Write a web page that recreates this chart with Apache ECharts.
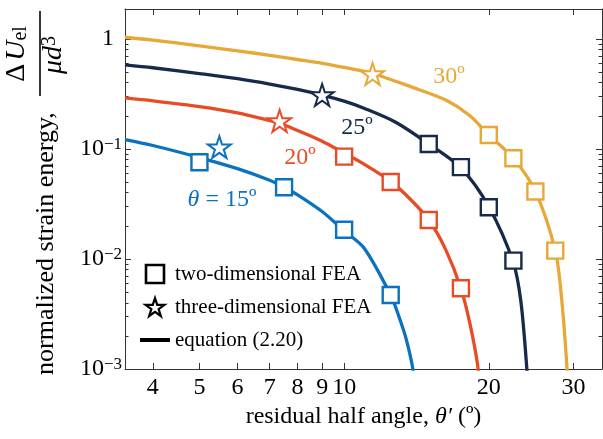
<!DOCTYPE html>
<html>
<head>
<meta charset="utf-8">
<script src="https://cdn.jsdelivr.net/npm/echarts@6/dist/echarts.min.js"></script>
<style>
html, body { margin: 0; padding: 0; background: #fff; }
#main { width: 603px; height: 439px; }
</style>
</head>
<body>
<div id="main"></div>
<script>
// tick values
var xTicks = [4, 5, 6, 7, 8, 9, 10, 20, 30];
var yTicks = [0.001, 0.01, 0.1, 1];
var yMinorTicks = [0.002, 0.003, 0.004, 0.005, 0.006, 0.007, 0.008, 0.009,
    0.02, 0.03, 0.04, 0.05, 0.06, 0.07, 0.08, 0.09,
    0.2, 0.3, 0.4, 0.5, 0.6, 0.7, 0.8, 0.9];

// equation (2.20)
var curve15 = [[3.5, 0.1217], [4, 0.1075], [5, 0.0835], [6, 0.0662], [7, 0.0519], [7.5, 0.0449],
    [8, 0.0383], [9, 0.027], [10, 0.018], [11, 0.0126], [12.5, 0.0047], [13, 0.003],
    [13.45, 0.0019], [13.9, 0.001], [14.4, 0.0003], [14.8, 0.00004]];
var curve20 = [[3.5, 0.291], [4, 0.274], [5, 0.243], [6, 0.213], [7, 0.181], [7.34, 0.172],
    [8, 0.147], [9, 0.1175], [10, 0.0916], [11, 0.0728], [12.5, 0.0507], [13.75, 0.0347],
    [15, 0.0226], [16.25, 0.0123], [17.5, 0.0054], [18.3, 0.0025], [19, 0.001],
    [19.5, 0.00022], [19.9, 0.00001]];
var curve25 = [[3.5, 0.581], [4, 0.547], [5, 0.484], [6, 0.435], [7, 0.389], [8, 0.347],
    [9, 0.308], [10, 0.2716], [11, 0.2344], [12.8, 0.175], [15, 0.111], [17.5, 0.0672],
    [20, 0.0298], [22.5, 0.00925], [23.33, 0.00406], [24, 0.001], [24.5, 0.00025], [24.9, 0.00001]];
var curve30 = [[3.5, 1.035], [4, 0.975], [5, 0.865], [6, 0.78], [7, 0.71], [8, 0.65],
    [9, 0.6], [10, 0.55], [11.46, 0.485], [13.88, 0.363], [16.28, 0.278], [18.22, 0.202],
    [20, 0.134], [22.5, 0.0822], [25, 0.0411], [27.5, 0.0119], [28.36, 0.0043],
    [29.1, 0.001], [29.6, 0.00025], [29.95, 0.00001]];

// two-dimensional FEA
var fea2d15 = [[5, 0.0757], [7.5, 0.0449], [10, 0.01845], [12.5, 0.00471]];
var fea2d20 = [[10, 0.0851], [12.5, 0.0501], [15, 0.0226], [17.5, 0.00542]];
var fea2d25 = [[15, 0.111], [17.5, 0.0683], [20, 0.0295], [22.5, 0.00965]];
var fea2d30 = [[20, 0.134], [22.5, 0.0822], [25, 0.0411], [27.5, 0.0119]];

// three-dimensional FEA
var fea3d15 = [[5.5, 0.104]];
var fea3d20 = [[7.34, 0.18]];
var fea3d25 = [[9.0, 0.31]];
var fea3d30 = [[11.46, 0.481]];

var colors = ['#0b72bf', '#e84c27', '#172a4a', '#e8a837'];
var serif = 'Liberation Serif';
var squarePath = 'path://M0,0H10V10H0Z';
var starPath = 'path://M50,0L61.2,34.5L97.6,34.5L68.2,55.9L79.4,90.5L50,69.1L20.6,90.5L31.8,55.9L2.4,34.5L38.8,34.5Z';
var barPath = 'path://M0,0H30V4H0Z';

var myChart = echarts.init(document.getElementById('main'));

function curveSeries(data, c) {
    return {
        type: 'line', data: data, smooth: 0.3, symbol: 'none',
        lineStyle: { color: c, width: 3.3 }, z: 2, silent: true
    };
}
function squareSeries(data, c) {
    return {
        type: 'scatter', data: data, symbol: squarePath, symbolSize: 16, symbolKeepAspect: true,
        itemStyle: { color: '#fff', borderColor: c, borderWidth: 2.4, opacity: 1 }, z: 3, silent: true
    };
}
function starSeries(data, c) {
    return {
        type: 'scatter', data: data, symbol: starPath, symbolSize: 23, symbolKeepAspect: true,
        itemStyle: { color: '#fff', borderColor: c, borderWidth: 2, opacity: 1 }, z: 3, silent: true
    };
}

var axisColor = '#333';
function xAxisDef(pos) {
    return {
        type: 'log', logBase: 10, min: 3.5, max: 34.4, position: pos,
        axisLine: { show: true, lineStyle: { color: axisColor, width: 1 } },
        axisTick: { show: true, inside: true, length: 6, customValues: xTicks, lineStyle: { color: axisColor } },
        axisLabel: {
            show: pos === 'bottom', customValues: xTicks, margin: 7,
            fontSize: 24, fontFamily: serif, color: '#000'
        },
        splitLine: { show: false }, minorTick: { show: false }
    };
}
function yAxisDef(pos, minor) {
    return {
        type: 'log', logBase: 10, min: 0.001, max: 1.87, position: pos,
        axisLine: { show: !minor, lineStyle: { color: axisColor, width: 1 } },
        axisTick: {
            show: true, inside: true, length: minor ? 3.5 : 6,
            customValues: minor ? yMinorTicks : yTicks, lineStyle: { color: axisColor }
        },
        axisLabel: {
            show: pos === 'left' && !minor, customValues: yTicks, margin: 3,
            formatter: function (v) {
                var e = Math.round(Math.log10(v));
                return e === 0 ? '{one|1}' : '{b|10}{sup|\u2212' + (-e) + '}';
            },
            rich: {
                one: { fontSize: 24, fontFamily: serif, color: '#000', lineHeight: 26, padding: [0, 8, 0, 0] },
                b: { fontSize: 24, fontFamily: serif, color: '#000', lineHeight: 26 },
                sup: { fontSize: 17, fontFamily: serif, color: '#000', lineHeight: 13, verticalAlign: 'top' }
            }
        },
        splitLine: { show: false }, minorTick: { show: false }
    };
}

var xMain = xAxisDef('bottom');
xMain.name = '{t|residual half angle, }{i|\u03b8\u2032}{t| (\u00ba)}';
xMain.nameLocation = 'middle';
xMain.nameGap = 30;
xMain.nameTextStyle = {
    rich: {
        t: { fontSize: 24, fontFamily: serif, color: '#000' },
        i: { fontSize: 24, fontFamily: serif, fontStyle: 'italic', color: '#000' }
    }
};

var series = [
    curveSeries(curve15, colors[0]), curveSeries(curve20, colors[1]),
    curveSeries(curve25, colors[2]), curveSeries(curve30, colors[3]),
    squareSeries(fea2d15, colors[0]), squareSeries(fea2d20, colors[1]),
    squareSeries(fea2d25, colors[2]), squareSeries(fea2d30, colors[3]),
    starSeries(fea3d15, colors[0]), starSeries(fea3d20, colors[1]),
    starSeries(fea3d25, colors[2]), starSeries(fea3d30, colors[3]),
    // legend-only entries
    { name: 'two-dimensional FEA', type: 'scatter', data: [], symbol: squarePath,
      itemStyle: { color: '#fff', borderColor: '#000', borderWidth: 2.6, opacity: 1 } },
    { name: 'three-dimensional FEA', type: 'scatter', data: [], symbol: starPath,
      itemStyle: { color: '#fff', borderColor: '#000', borderWidth: 2.2, opacity: 1 } },
    { name: 'equation (2.20)', type: 'line', data: [], symbol: 'none',
      lineStyle: { color: '#000', width: 4 }, itemStyle: { color: '#000' } }
];

var label = function (txt, x, y, c) {
    return {
        type: 'text', x: x, y: y, z: 10,
        style: {
            text: txt, fill: c, align: 'center', verticalAlign: 'middle',
            font: '24px "Liberation Serif"',
            rich: {
                i: { fontSize: 24, fontFamily: serif, fontStyle: 'italic', fill: c },
                t: { fontSize: 24, fontFamily: serif, fill: c }
            }
        }
    };
};

var option = {
    animation: false,
    backgroundColor: '#fff',
    grid: { left: 125, right: 1, top: 9, bottom: 70, containLabel: false },
    xAxis: [xMain, xAxisDef('top')],
    yAxis: [yAxisDef('left', false), yAxisDef('left', true), yAxisDef('right', false), yAxisDef('right', true)],
    legend: {
        orient: 'vertical', left: 135, top: 258, itemWidth: 30, itemHeight: 18, itemGap: 11,
        itemTextGap: 8, selectedMode: false,
        textStyle: { fontSize: 21, fontFamily: serif, color: '#000', lineHeight: 22 },
        data: [
            { name: 'two-dimensional FEA', icon: squarePath, itemStyle: { borderWidth: 2.6, borderColor: '#000', color: '#fff', opacity: 1 } },
            { name: 'three-dimensional FEA', icon: starPath, itemStyle: { borderWidth: 2.2, borderColor: '#000', color: '#fff', opacity: 1 } },
            { name: 'equation (2.20)', icon: barPath, itemStyle: { color: '#000', borderWidth: 0, opacity: 1 } }
        ]
    },
    graphic: [
        label('30\u00ba', 449, 77, colors[3]),
        label('25\u00ba', 357, 128, colors[2]),
        label('20\u00ba', 300, 158, colors[1]),
        label('{i|\u03b8}{t| = 15\u00ba}', 222, 200, colors[0]),
        {
            type: 'group', x: 46, y: 375, rotation: Math.PI / 2,
            children: [
                { type: 'text', x: 0, y: 0,
                  style: { text: 'normalized strain energy,', font: '26px "Liberation Serif"', fill: '#000',
                           align: 'left', verticalAlign: 'middle' } },
                { type: 'text', x: 321, y: -29,
                  style: { text: '{r|\u0394}{i|U}{s|el}', align: 'center', verticalAlign: 'middle',
                           rich: {
                               r: { fontSize: 28, fontFamily: serif, fill: '#000', padding: [0, 3, 0, 0] },
                               i: { fontSize: 28, fontFamily: serif, fontStyle: 'italic', fill: '#000' },
                               s: { fontSize: 20, fontFamily: serif, fill: '#000', verticalAlign: 'bottom', lineHeight: 20 }
                           } } },
                { type: 'line', shape: { x1: 279, y1: -6, x2: 364, y2: -6 },
                  style: { stroke: '#000', lineWidth: 1.6 } },
                { type: 'text', x: 320, y: 8,
                  style: { text: '{i|\u03bcd}{p|3}', align: 'center', verticalAlign: 'middle',
                           rich: {
                               i: { fontSize: 28, fontFamily: serif, fontStyle: 'italic', fill: '#000' },
                               p: { fontSize: 20, fontFamily: serif, fill: '#000', verticalAlign: 'top', lineHeight: 16 }
                           } } }
            ]
        }
    ],
    series: series
};

myChart.setOption(option);
</script>
</body>
</html>
